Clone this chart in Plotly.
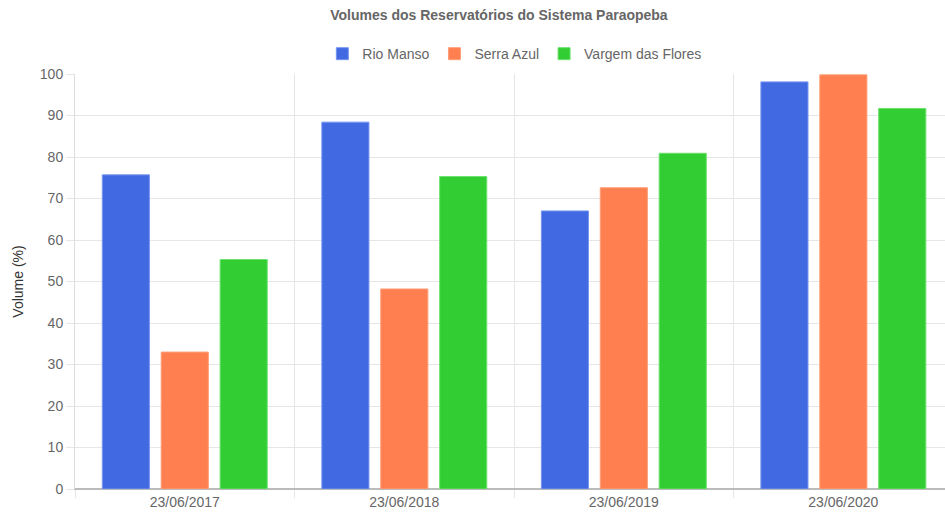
import plotly.graph_objects as go

dates = ["23/06/2017", "23/06/2018", "23/06/2019", "23/06/2020"]
rio_manso = [75.7, 88.4, 67.0, 98.1]
serra_azul = [33.0, 48.2, 72.6, 99.8]
vargem_flores = [55.3, 75.3, 80.9, 91.7]

series = [
    ("Rio Manso", rio_manso, "#4169E1", "rgba(120,150,240,1)"),
    ("Serra Azul", serra_azul, "#FF7F50", "rgba(255,160,120,1)"),
    ("Vargem das Flores", vargem_flores, "#32CD32", "rgba(110,225,110,1)"),
]

fig = go.Figure()
for name, vals, col, edge in series:
    fig.add_trace(go.Bar(x=dates, y=vals, name=name, marker=dict(color=col, line=dict(color=edge, width=1))))

fig.update_layout(
    width=945, height=515,
    margin=dict(l=75, r=0, t=74, b=26),
    paper_bgcolor="white", plot_bgcolor="white",
    font=dict(family="Liberation Sans, Arial, sans-serif", size=14, color="#666"),
    title=dict(text="<b>Volumes dos Reservatórios do Sistema Paraopeba</b>", x=0.528, xanchor="center",
               y=0.97, yanchor="middle", font=dict(size=14, color="#666")),
    legend=dict(orientation="h", x=0.505, xanchor="center", y=1.048, yanchor="middle",
                font=dict(size=14, color="#666")),
    bargap=0.195, bargroupgap=0.2,
    showlegend=True,
)
fig.update_xaxes(
    type="category", tickson="boundaries", range=[-0.5, 3.463],
    showgrid=True, gridcolor="#e6e6e6", gridwidth=1,
    ticks="outside", ticklen=8, tickcolor="#e6e6e6",
    showline=True, linecolor="#bbb", linewidth=1,
    tickfont=dict(size=14, color="#666"), automargin=False,
)
fig.update_yaxes(
    range=[0, 100], dtick=10,
    showgrid=True, gridcolor="#e6e6e6", gridwidth=1,
    ticks="outside", ticklen=8, tickcolor="#e6e6e6",
    showline=True, linecolor="#ddd", linewidth=1,
    zeroline=True, zerolinecolor="#bbb",
    title=dict(text="Volume (%)", standoff=12, font=dict(size=14, color="#333")),
    tickfont=dict(size=14, color="#666"), automargin=False,
)

fig.write_html("out.html")
